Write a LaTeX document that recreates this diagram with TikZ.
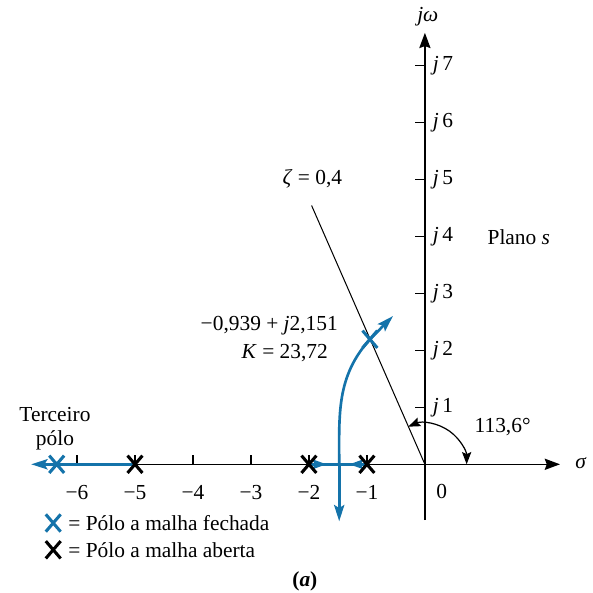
\documentclass[tikz,border=0pt]{standalone}
\usepackage{fontspec}
\setmainfont{Liberation Serif}
\usetikzlibrary{arrows.meta,shapes.misc,decorations.markings}
\definecolor{locusblue}{RGB}{20,115,170}
\pgfdeclarelayer{edgelayer}
\pgfdeclarelayer{nodelayer}
\pgfsetlayers{edgelayer,nodelayer,main}
\tikzstyle{none}=[inner sep=0pt]
\tikzstyle{axis}=[draw=black, line width=0.7pt, -{Stealth[length=7.5pt,width=5.5pt,inset=1pt]}]
\tikzstyle{tick}=[draw=black, line width=0.7pt]
\tikzstyle{ray}=[draw=black, line width=0.5pt]
\tikzstyle{angle}=[draw=black, line width=0.6pt, {Stealth[length=6pt,width=4.5pt,inset=1pt]}-{Stealth[length=6pt,width=4.5pt,inset=1pt]}]
\tikzstyle{open pole}=[cross out, draw=black, line width=1.5pt, minimum width=5.8pt, minimum height=7pt, inner sep=0pt]
\tikzstyle{closed pole}=[open pole, draw=locusblue]
\tikzstyle{locus}=[draw=locusblue, line width=1.3pt]
\tikzstyle{locus tip}=[locus, -{Stealth[length=8pt,width=5pt,inset=1.5pt]}]
\tikzstyle{mid tip}=[locus, postaction={decorate}, decoration={markings, mark=at position 0.3cm with {\arrow[locusblue]{Stealth[length=7pt,width=5pt,inset=1.5pt]}}}]

\begin{document}
\begin{tikzpicture}[x=1cm, y=0.983cm, font=\fontsize{10.5pt}{12.6pt}\selectfont]
			\useasboundingbox (-7.328, -2.258) rectangle (2.897, 8.146);
			\begin{pgfonlayer}{nodelayer}
			\node [style=none] (0) at (0, 0) {};
			\node [style=none] (1) at (-6.7, 0) {};
			\node [style=none] (2) at (2.33, 0) {};
			\node [style=none] (3) at (0, -0.98) {};
			\node [style=none] (4) at (0, 7.57) {};
			\node [style=none] (5) at (2.69, 0.03) {\textit{σ}};
			\node [style=none] (6) at (0.05, 7.85) {\textit{jω}};
			\node [style=open pole] (7) at (-5, 0) {};
			\node [style=open pole] (8) at (-2, 0) {};
			\node [style=open pole] (9) at (-1, 0) {};
			\node [style=closed pole] (10) at (-6.35, 0) {};
			\node [style=closed pole] (11) at (-0.948, 2.193) {};
			\node [style=none] (12) at (-1.478, 0) {};
			\node [style=none] (13) at (-1.478, -1.0) {};
			\node [style=none] (14) at (-0.552, 2.6) {};
			\node [style=none] (15) at (-6.79, 0) {};
			\node [style=none] (16) at (-1.954, 4.54) {};
			\node [style=none] (17) at (113.6:0.72) {};
			\node [style=none] (20) at (-6, -0.5) {−6};
			\node [style=none] (21) at (-5, -0.5) {−5};
			\node [style=none] (22) at (-4, -0.5) {−4};
			\node [style=none] (23) at (-3, -0.5) {−3};
			\node [style=none] (24) at (-2, -0.5) {−2};
			\node [style=none] (25) at (-1, -0.5) {−1};
			\node [style=none] (26) at (0.29, -0.48) {0};
			\node [style=none, anchor=west] (31) at (0.13, 1) {\textit{j}\,1};
			\node [style=none, anchor=west] (32) at (0.13, 2) {\textit{j}\,2};
			\node [style=none, anchor=west] (33) at (0.13, 3) {\textit{j}\,3};
			\node [style=none, anchor=west] (34) at (0.13, 4) {\textit{j}\,4};
			\node [style=none, anchor=west] (35) at (0.13, 5) {\textit{j}\,5};
			\node [style=none, anchor=west] (36) at (0.13, 6) {\textit{j}\,6};
			\node [style=none, anchor=west] (37) at (0.13, 7) {\textit{j}\,7};
			\node [style=none] (40) at (1.62, 3.99) {Plano \textit{s}};
			\node [style=none] (41) at (-1.94, 5.01) {\textit{ζ} = 0,4};
			\node [style=none, anchor=east] (42) at (-1.495, 2.44) {−0,939 + \textit{j}2,151};
			\node [style=none, anchor=east] (43) at (-1.667, 1.95) {\textit{K} = 23,72};
			\node [style=none] (44) at (1.34, 0.65) {113,6°};
			\node [style=none, align=center] (45) at (-6.38, 0.63) {Terceiro\\[-1pt]pólo};
			\node [style=closed pole] (46) at (-6.41, -1.03) {};
			\node [style=none, anchor=west] (47) at (-6.155, -1.03) {= Pólo a malha fechada};
			\node [style=open pole] (48) at (-6.41, -1.5) {};
			\node [style=none, anchor=west] (49) at (-6.155, -1.5) {= Pólo a malha aberta};
			\node [style=none] (50) at (-2.07, -2.05) {\textbf{(\textit{a})}};
			\end{pgfonlayer}
			\begin{pgfonlayer}{edgelayer}
			\draw [style=axis] (1.center) to (2.center);
			\draw [style=axis] (3.center) to (4.center);
			\draw [style=tick] (-1, 0) to (-1, 0.17);
			\draw [style=tick] (-2, 0) to (-2, 0.17);
			\draw [style=tick] (-3, 0) to (-3, 0.17);
			\draw [style=tick] (-4, 0) to (-4, 0.17);
			\draw [style=tick] (-5, 0) to (-5, 0.17);
			\draw [style=tick] (-6, 0) to (-6, 0.17);
			\draw [style=tick] (0, 1) to (-0.17, 1);
			\draw [style=tick] (0, 2) to (-0.17, 2);
			\draw [style=tick] (0, 3) to (-0.17, 3);
			\draw [style=tick] (0, 4) to (-0.17, 4);
			\draw [style=tick] (0, 5) to (-0.17, 5);
			\draw [style=tick] (0, 6) to (-0.17, 6);
			\draw [style=tick] (0, 7) to (-0.17, 7);
			\draw [style=ray] (0.center) to (16.center);
			\draw [style=angle] (17.center) arc [start angle=113.6, end angle=0, radius=0.72];
			\draw [style=locus tip] (7.center) to (15.center);
			\draw [style=mid tip] (8.center) to (12.center);
			\draw [style=mid tip] (9.center) to (12.center);
			\draw [style=locus tip] (12.center) to (13.center);
			\draw [style=locus tip] (12.center) to [out=90, in=228] (11.center) -- (14.center);
			\end{pgfonlayer}
\end{tikzpicture}
\end{document}
